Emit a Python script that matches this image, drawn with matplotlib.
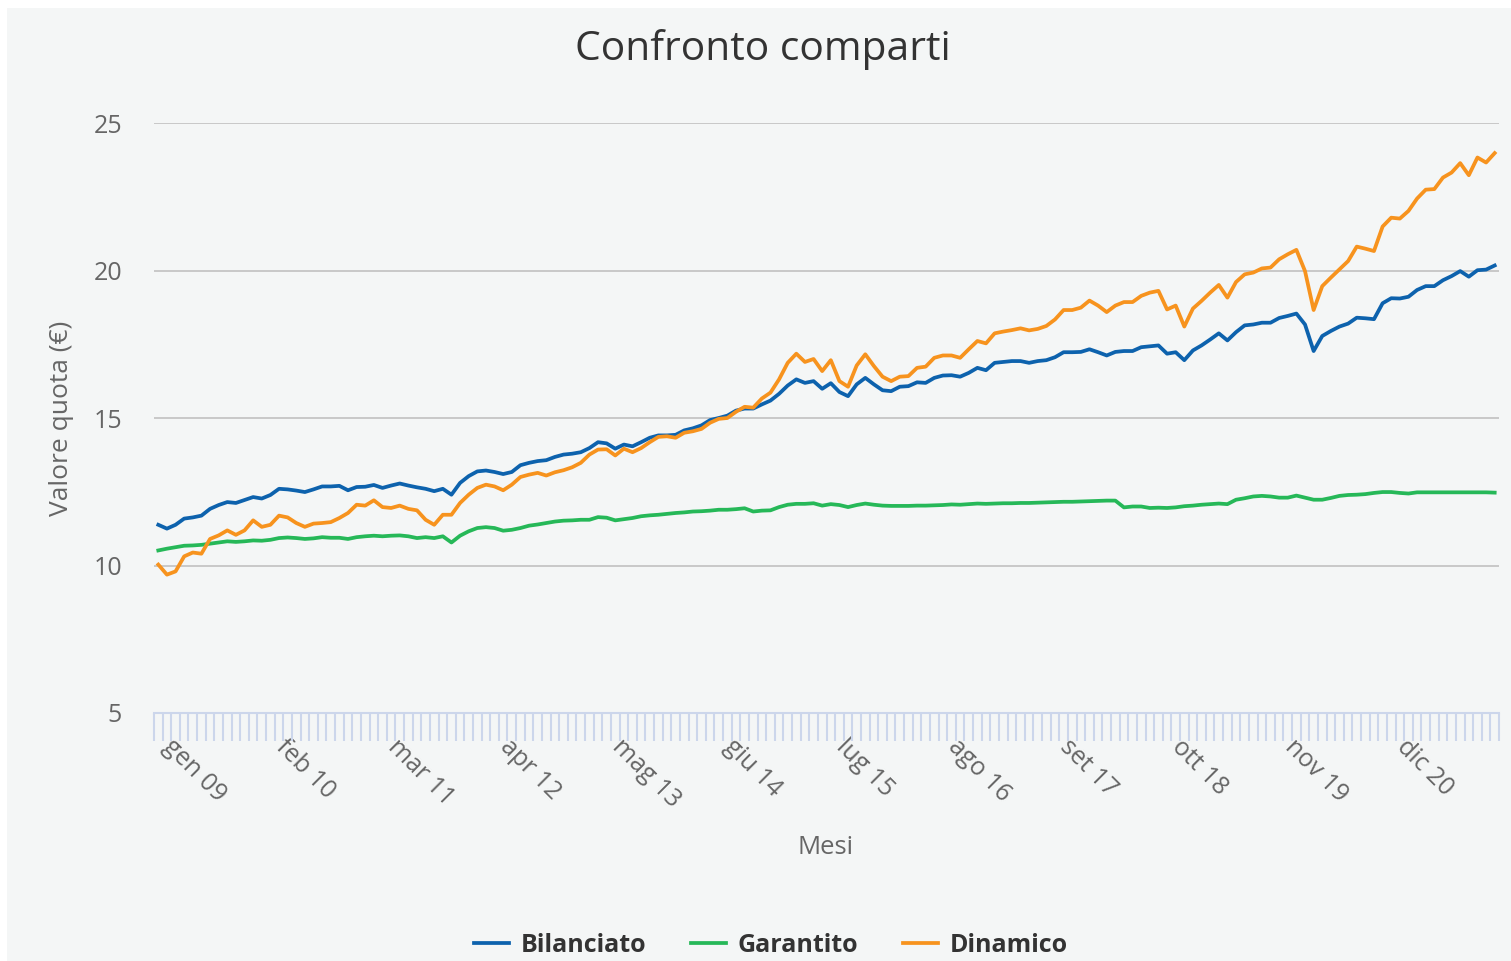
# Confronto comparti - valore quota mensile dei tre comparti
import matplotlib.pyplot as plt
from matplotlib.patches import Rectangle
from matplotlib.transforms import ScaledTranslation

# Etichette dell'asse x (una ogni 13 mesi, partendo da gen 09)
etichette_mesi = ["gen 09", "feb 10", "mar 11", "apr 12", "mag 13", "giu 14",
                  "lug 15", "ago 16", "set 17", "ott 18", "nov 19", "dic 20"]
passo_etichette = 13

# Valori quota mensili (gen 2009 - dic 2021)
bilanciato = [
    11.38, 11.25, 11.38, 11.59, 11.63, 11.69, 11.92, 12.05, 12.15, 12.12,
    12.22, 12.32, 12.27, 12.39, 12.60, 12.58, 12.54, 12.49, 12.58, 12.68,
    12.68, 12.70, 12.55, 12.66, 12.67, 12.73, 12.63, 12.71, 12.78, 12.71,
    12.65, 12.60, 12.52, 12.60, 12.40, 12.80, 13.03, 13.19, 13.22, 13.17,
    13.10, 13.17, 13.40, 13.48, 13.54, 13.57, 13.68, 13.76, 13.79, 13.84,
    13.98, 14.18, 14.14, 13.96, 14.10, 14.04, 14.18, 14.33, 14.41, 14.41,
    14.43, 14.58, 14.65, 14.75, 14.93, 15.00, 15.08, 15.25, 15.32, 15.32,
    15.46, 15.59, 15.82, 16.10, 16.31, 16.19, 16.25, 15.99, 16.18, 15.88,
    15.74, 16.14, 16.36, 16.14, 15.94, 15.91, 16.06, 16.08, 16.21, 16.19,
    16.36, 16.44, 16.45, 16.40, 16.53, 16.70, 16.62, 16.87, 16.90, 16.93,
    16.93, 16.87, 16.93, 16.96, 17.06, 17.23, 17.23, 17.24, 17.33, 17.23,
    17.12, 17.24, 17.27, 17.27, 17.40, 17.43, 17.46, 17.18, 17.23, 16.96,
    17.29, 17.46, 17.66, 17.87, 17.63, 17.91, 18.14, 18.17, 18.23, 18.23,
    18.39, 18.46, 18.54, 18.17, 17.27, 17.78, 17.95, 18.10, 18.20, 18.40,
    18.38, 18.35, 18.89, 19.06, 19.05, 19.11, 19.34, 19.47, 19.47, 19.67,
    19.81, 19.98, 19.79, 20.01, 20.03, 20.17,
]

garantito = [
    10.51, 10.57, 10.62, 10.67, 10.68, 10.70, 10.74, 10.78, 10.82, 10.80,
    10.82, 10.85, 10.84, 10.87, 10.93, 10.95, 10.93, 10.90, 10.92, 10.96,
    10.94, 10.94, 10.90, 10.96, 10.99, 11.01, 10.99, 11.01, 11.02, 10.99,
    10.93, 10.96, 10.93, 10.99, 10.78, 11.01, 11.16, 11.27, 11.30, 11.27,
    11.18, 11.21, 11.27, 11.35, 11.39, 11.44, 11.49, 11.52, 11.53, 11.55,
    11.55, 11.64, 11.62, 11.53, 11.57, 11.61, 11.67, 11.70, 11.72, 11.75,
    11.78, 11.80, 11.83, 11.84, 11.86, 11.89, 11.89, 11.91, 11.94, 11.83,
    11.86, 11.87, 11.98, 12.06, 12.09, 12.09, 12.11, 12.03, 12.08, 12.05,
    11.98, 12.05, 12.10, 12.06, 12.03, 12.02, 12.02, 12.02, 12.03, 12.03,
    12.04, 12.05, 12.07, 12.06, 12.08, 12.10, 12.09, 12.10, 12.11, 12.11,
    12.12, 12.12, 12.13, 12.14, 12.15, 12.16, 12.16, 12.17, 12.18, 12.19,
    12.20, 12.20, 11.97, 12.00, 12.00, 11.95, 11.96, 11.95, 11.97, 12.01,
    12.03, 12.06, 12.08, 12.10, 12.08, 12.23, 12.28, 12.34, 12.36, 12.34,
    12.30, 12.30, 12.37, 12.30, 12.23, 12.23, 12.29, 12.36, 12.39, 12.40,
    12.42, 12.46, 12.49, 12.49, 12.46, 12.44, 12.48, 12.48, 12.48, 12.48,
    12.48, 12.48, 12.48, 12.48, 12.48, 12.47,
]

dinamico = [
    10.03, 9.69, 9.80, 10.31, 10.44, 10.40, 10.90, 11.02, 11.19, 11.04,
    11.19, 11.53, 11.31, 11.38, 11.69, 11.63, 11.44, 11.31, 11.42, 11.44,
    11.47, 11.61, 11.78, 12.06, 12.03, 12.21, 11.98, 11.95, 12.03, 11.92,
    11.87, 11.55, 11.38, 11.72, 11.72, 12.12, 12.40, 12.63, 12.74, 12.68,
    12.55, 12.74, 13.00, 13.08, 13.14, 13.05, 13.16, 13.23, 13.33, 13.48,
    13.76, 13.93, 13.94, 13.73, 13.96, 13.84, 13.98, 14.18, 14.36, 14.38,
    14.33, 14.50, 14.55, 14.63, 14.84, 14.97, 15.00, 15.21, 15.38, 15.35,
    15.66, 15.86, 16.31, 16.87, 17.18, 16.90, 17.00, 16.59, 16.96, 16.25,
    16.06, 16.78, 17.16, 16.76, 16.40, 16.25, 16.40, 16.42, 16.70, 16.74,
    17.04, 17.12, 17.12, 17.04, 17.33, 17.61, 17.53, 17.87, 17.93, 17.98,
    18.04, 17.97, 18.02, 18.12, 18.34, 18.66, 18.66, 18.74, 18.98, 18.81,
    18.59, 18.81, 18.93, 18.93, 19.14, 19.25, 19.31, 18.68, 18.81, 18.10,
    18.71, 18.97, 19.25, 19.51, 19.08, 19.61, 19.87, 19.93, 20.07, 20.10,
    20.38, 20.55, 20.70, 19.98, 18.66, 19.47, 19.76, 20.04, 20.32, 20.81,
    20.74, 20.66, 21.49, 21.79, 21.76, 22.02, 22.44, 22.74, 22.76, 23.15,
    23.32, 23.64, 23.23, 23.83, 23.66, 23.98,
]

n = len(bilanciato)
mesi = list(range(n))

plt.rcParams['font.family'] = ['Open Sans', 'DejaVu Sans']

W, H = 1511, 961
fig = plt.figure(figsize=(W / 100, H / 100), dpi=100, facecolor='white')
# pannello grigio chiaro dietro al grafico
fig.patches.append(Rectangle((7 / W, 0), 1, 1 - 8 / H, transform=fig.transFigure,
                             facecolor='#f4f6f6', edgecolor='none', zorder=-10))

ax = fig.add_axes([154 / W, 1 - 713 / H, 1345 / W, 590 / H])
ax.set_facecolor('none')

ax.plot(mesi, bilanciato, color='#0d62ad', lw=2.7, label='Bilanciato', solid_joinstyle='round')
ax.plot(mesi, garantito, color='#26b858', lw=2.7, label='Garantito', solid_joinstyle='round')
ax.plot(mesi, dinamico, color='#f7931e', lw=2.7, label='Dinamico', solid_joinstyle='round')

ax.set_xlim(-0.5, n - 0.5)
ax.set_ylim(5, 25)
ax.set_yticks([5, 10, 15, 20, 25])
ax.grid(axis='y', color='#c8c8c8', lw=1.4)
ax.set_axisbelow(True)
for s in ['top', 'right', 'left']:
    ax.spines[s].set_visible(False)
ax.spines['bottom'].set_color('#ccd6eb')
ax.spines['bottom'].set_linewidth(1.5)
ax.tick_params(axis='y', length=0, pad=23, labelsize=18, labelcolor='#666666')

# tacche per ogni mese (tra le categorie)
ax.set_xticks([i - 0.5 for i in range(n + 1)], minor=True)
ax.tick_params(axis='x', which='minor', length=20, width=1.5, color='#ccd6eb')
ax.set_xticks(range(0, n, passo_etichette))
ax.set_xticklabels(etichette_mesi)
ax.tick_params(axis='x', which='major', length=0, pad=16, labelsize=18,
               labelcolor='#666666', labelrotation=-45)
sposta = ScaledTranslation(9 / 100, -8 / 100, fig.dpi_scale_trans)
for lab in ax.get_xticklabels():
    lab.set_ha('left')
    lab.set_va('center')
    lab.set_rotation_mode('anchor')
    lab.set_transform(lab.get_transform() + sposta)

fig.text(763 / W, 1 - 50 / H, 'Confronto comparti', ha='center', va='center',
         fontsize=29.3, color='#333333')
fig.text(62 / W, 1 - 418 / H, 'Valore quota (€)', rotation=90, ha='center',
         va='center', fontsize=19, color='#666666')
fig.text(826 / W, 1 - 847 / H, 'Mesi', ha='center', va='center',
         fontsize=18.5, color='#666666')

leg = fig.legend(loc='center', bbox_to_anchor=(771 / W, 1 - 945 / H), ncol=3,
                 frameon=False, prop={'weight': 'bold', 'size': 18},
                 handlelength=1.4, handletextpad=0.45, columnspacing=1.8)
for t in leg.get_texts():
    t.set_color('#333333')

fig.savefig('out.png', dpi=100, facecolor=fig.get_facecolor())
